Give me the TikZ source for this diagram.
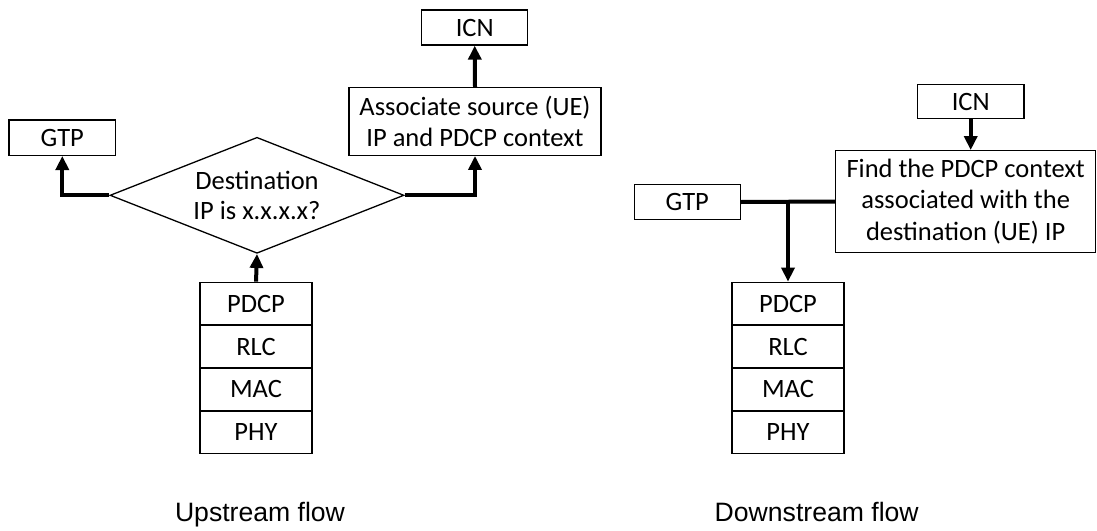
\documentclass[tikz,border=0pt]{standalone}
\usepackage{fontspec}
\setmainfont{Carlito}
\newfontfamily\capfont{Liberation Sans}
\usetikzlibrary{shapes.geometric,arrows.meta}
\begin{document}
\begin{tikzpicture}[x=1pt,y=-1pt,
  box/.style={draw,line width=1.3pt,inner sep=0pt,align=center,
    font=\fontsize{26.5}{30.5}\selectfont},
  layer/.style={box,minimum width=112pt,minimum height=42.85pt},
  flow/.style={line width=4pt,-{Triangle[length=14pt,width=13pt]}},
  plain/.style={line width=4pt},
  caption/.style={anchor=base,inner sep=0pt,font=\capfont\fontsize{26.6}{30}\selectfont}]
\useasboundingbox (0,0) rectangle (1097,530);
\fill[white] (0,0) rectangle (1097,530);
% ---------- Upstream ----------
\node[box,minimum width=106.7pt,minimum height=35.3pt] (gtpL) at (62.3,137.7) {GTP};
\node[box,minimum width=106pt,minimum height=35pt] (icnL) at (474.7,27.5) {ICN};
\node[box,minimum width=252pt,minimum height=67.6pt] (assoc) at (475,121.5)
  {Associate source (UE)\\IP and PDCP context};
\node[box,diamond,aspect=2.53,minimum width=294pt,minimum height=116pt] (dec) at (257,195.3)
  {Destination\\IP is x.x.x.x?};
\node[layer] (pdcpL) at (256,303.7) {PDCP};
\node[layer] (rlcL) at (256,346.6) {RLC};
\node[layer] (macL) at (256,389.4) {MAC};
\node[layer] (phyL) at (256,432.3) {PHY};
\draw[flow] (pdcpL.north) -- (dec.south);
\draw[flow] (dec.west) -| (gtpL.south);
\draw[flow] (dec.east) -| (assoc.south);
\draw[flow] (assoc.north) -- (icnL.south);
\node[caption] (capL) at (260,521.7) {Upstream flow};
% ---------- Downstream ----------
\node[box,minimum width=106pt,minimum height=35.4pt] (gtpR) at (687.3,202) {GTP};
\node[box,minimum width=106.7pt,minimum height=34.4pt] (icnR) at (970.7,101.5) {ICN};
\node[box,minimum width=260pt,minimum height=101.6pt,font=\fontsize{26.5}{31.7}\selectfont] (find) at (965.7,201.5)
  {Find the PDCP context\\associated with the\\destination (UE) IP};
\node[layer] (pdcpR) at (788,303.7) {PDCP};
\node[layer] (rlcR) at (788,346.6) {RLC};
\node[layer] (macR) at (788,389.4) {MAC};
\node[layer] (phyR) at (788,432.3) {PHY};
\coordinate (j) at (pdcpR.north |- gtpR.east);
\draw[plain] (gtpR.east) -- (find.west);
\draw[flow] (j) -- (pdcpR.north);
\draw[flow] (icnR.south) -- (icnR.south |- find.north);
\node[caption] (capR) at (816.7,521.7) {Downstream flow};
\end{tikzpicture}
\end{document}
